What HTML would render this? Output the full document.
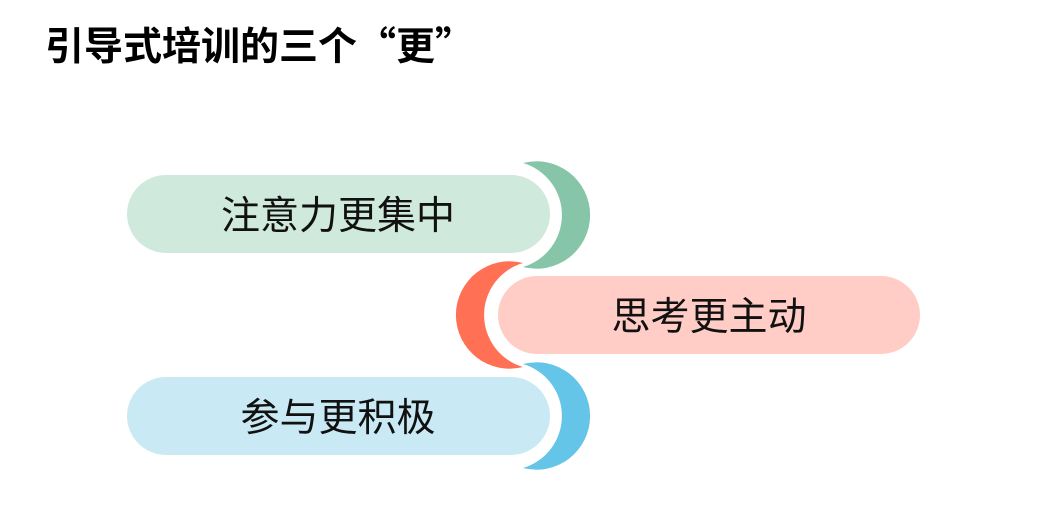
<!DOCTYPE html>
<html><head><meta charset="utf-8"><style>
body{margin:0;background:#fff;width:1039px;height:509px;overflow:hidden}
</style></head><body>
<svg width="1039" height="509" xmlns="http://www.w3.org/2000/svg" style="font-family:'Liberation Sans','Noto Sans CJK SC',sans-serif">
<text x="45" y="60" font-size="39" font-weight="bold" fill="#000" style="font-family:'Noto Sans CJK SC',sans-serif">引导式培训的三个“更”</text>

<path d="M523,163 A53.7,53.7 0 1,1 523,267 A54.2,54.2 0 0,0 523,163 Z" fill="#86c5a8"/>
<rect x="127" y="175" width="423" height="78" rx="39" fill="#cfe9dc"/>
<text x="338" y="229" font-size="39" text-anchor="middle" fill="#111">注意力更集中</text>

<path d="M523,263 A53.7,53.7 0 1,0 523,367 A54.2,54.2 0 0,1 523,263 Z" fill="#ff7055"/>
<rect x="498" y="276" width="422" height="78" rx="39" fill="#ffcdc6"/>
<text x="709" y="330" font-size="39" text-anchor="middle" fill="#111">思考更主动</text>

<path d="M523,364 A53.7,53.7 0 1,1 523,468 A54.2,54.2 0 0,0 523,364 Z" fill="#65c5e8"/>
<rect x="127" y="377" width="423" height="78" rx="39" fill="#c9eaf5"/>
<text x="338" y="431" font-size="39" text-anchor="middle" fill="#111">参与更积极</text>
</svg>
</body></html>
